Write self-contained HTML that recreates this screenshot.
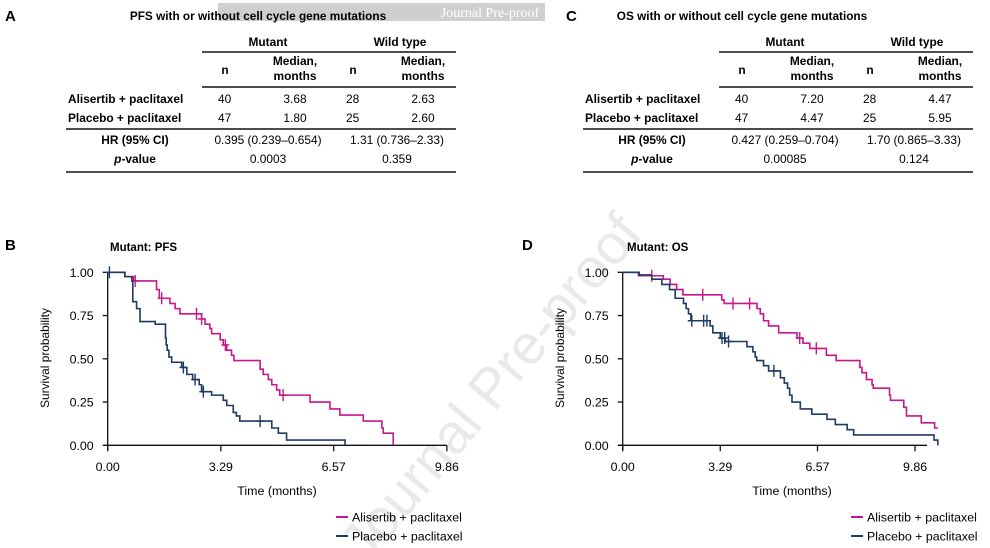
<!DOCTYPE html>
<html><head><meta charset="utf-8"><style>
body{margin:0;background:#fff;}
#root{position:relative;width:990px;height:548px;overflow:hidden;font-family:"Liberation Sans",Arial,sans-serif;color:#111;}
svg text{font-family:"Liberation Sans",Arial,sans-serif;}
</style></head><body>
<div id="root">
<svg id="svg" width="990" height="548" viewBox="0 0 990 548">
  <g>
    <text x="505" y="400" font-size="56" fill="#e9e9e9" text-anchor="middle" transform="rotate(-50 505 400)">Journal Pre-proof</text>
  </g>
  <rect x="218" y="3" width="327" height="18" fill="#cfcfcf"/>
  <text x="490" y="17" font-size="14" fill="#fff" text-anchor="middle" style="font-family:'Liberation Serif',serif">Journal Pre-proof</text>
  <g id="tables"></g>
  <g id="charts"></g>
</svg>
</div>
<script>
// ---- Table data ----
const tableTitles = ["PFS with or without cell cycle gene mutations","OS with or without cell cycle gene mutations"];
const tableLetters = ["A","C"];
const tableRows = [
  [["Alisertib + paclitaxel","40","3.68","28","2.63"],["Placebo + paclitaxel","47","1.80","25","2.60"]],
  [["Alisertib + paclitaxel","40","7.20","28","4.47"],["Placebo + paclitaxel","47","4.47","25","5.95"]]
];
const tableHR = [["0.395 (0.239\u20130.654)","1.31 (0.736\u20132.33)"],["0.427 (0.259\u20130.704)","1.70 (0.865\u20133.33)"]];
const tableP = [["0.0003","0.359"],["0.00085","0.124"]];

// ---- Chart data ----
const xTicks = [0, 3.29, 6.57, 9.86];
const xTickLabels = ["0.00","3.29","6.57","9.86"];
const yTicks = [0, 0.25, 0.5, 0.75, 1];
const yTickLabels = ["0.00","0.25","0.50","0.75","1.00"];
const chartLetters = ["B","D"];
const chartTitles = ["Mutant: PFS","Mutant: OS"];
const seriesNames = ["Alisertib + paclitaxel","Placebo + paclitaxel"];

const pfsAliT = [0,0.5,0.75,1.42,1.50,1.81,1.96,2.10,2.73,2.83,2.97,3.02,3.27,3.36,3.46,3.60,3.67,4.43,4.52,4.67,4.77,4.91,5.0,5.88,6.46,6.75,7.43,7.97,8.01,8.30];
const pfsAliS = [1,0.975,0.95,0.90,0.85,0.82,0.79,0.76,0.73,0.70,0.675,0.645,0.61,0.58,0.55,0.52,0.49,0.44,0.41,0.38,0.35,0.32,0.29,0.25,0.21,0.175,0.14,0.10,0.07,0.0];
const pfsAliC = [0.80,1.57,2.58,2.73,3.42,5.10];
const pfsPlaT = [0,0.50,0.70,0.73,0.84,0.94,1.38,1.68,1.70,1.73,1.78,1.86,2.15,2.30,2.47,2.66,2.73,3.02,3.36,3.46,3.65,3.74,3.84,4.77,4.96,5.20,6.90];
const pfsPlaS = [1,0.975,0.95,0.83,0.79,0.715,0.70,0.62,0.58,0.55,0.51,0.48,0.45,0.41,0.38,0.35,0.31,0.29,0.26,0.23,0.19,0.17,0.14,0.10,0.07,0.03,0.0];
const pfsPlaC = [0.05,2.20,2.54,2.78,4.43];
const pfsEnd = [8.30, 6.90];

const osAliT = [0,0.53,1.37,1.60,1.82,2.03,3.34,3.42,4.53,4.64,4.75,4.92,5.26,5.88,6.08,6.31,6.87,7.20,8.0,8.07,8.22,8.41,8.45,9.0,9.03,9.48,9.57,10.07,10.52];
const osAliS = [1,0.98,0.96,0.93,0.90,0.87,0.84,0.82,0.79,0.76,0.72,0.69,0.65,0.62,0.59,0.56,0.52,0.49,0.45,0.42,0.38,0.35,0.33,0.29,0.26,0.22,0.17,0.13,0.10];
const osAliC = [0.98,2.70,3.72,4.28,5.97,6.53];
const osPlaT = [0,0.56,0.98,1.32,1.58,1.77,2.05,2.14,2.22,2.30,2.95,3.04,3.29,3.46,4.19,4.39,4.47,4.52,4.75,4.92,5.32,5.45,5.56,5.63,5.71,5.99,6.38,6.89,7.17,7.57,7.79,10.50,10.63];
const osPlaS = [1,0.985,0.96,0.93,0.90,0.85,0.82,0.79,0.76,0.72,0.69,0.65,0.62,0.60,0.57,0.54,0.51,0.49,0.46,0.43,0.39,0.36,0.33,0.29,0.25,0.21,0.18,0.15,0.12,0.09,0.06,0.03,0.0];
const osPlaC = [2.33,2.73,2.84,3.35,3.44,3.57,5.10];
const osEnd = [10.63, 10.63];

const NS="http://www.w3.org/2000/svg";
function mk(tag, attrs, parent, text){
  const e=document.createElementNS(NS,tag);
  for(const k in attrs) e.setAttribute(k,attrs[k]);
  if(text!==undefined) e.textContent=text;
  parent.appendChild(e); return e;
}
const TF=11.9, CF=12.4;

// ---- Tables ----
const tg=document.getElementById('tables');
[0,1].forEach(ti=>{
  const o = ti*517;
  const g=mk('g',{},tg);
  
  
  const L=mk('text',{x:ti?566:5,y:21,'font-size':15,'font-weight':'bold'},g,tableLetters[ti]);
  
  
  const t=mk('text',{x:ti?742:258,y:20,'font-size':11.8,'font-weight':'bold','text-anchor':'middle'},g,tableTitles[ti]);
  
  
  const hdr=[["Mutant",268,46],["Wild type",400,46]];
  hdr.forEach(h=>{const e=mk('text',{x:h[1]+o,y:h[2],'font-size':TF,'font-weight':'bold','text-anchor':'middle'},g,h[0]);
    });
  const sub=[["n",225,74],["n",353,74]];
  sub.forEach(h=>{const e=mk('text',{x:h[1]+o,y:h[2],'font-size':TF,'font-weight':'bold','text-anchor':'middle'},g,h[0]);
    });
  [295,423].forEach(x=>{
    const a=mk('text',{x:x+o,y:65,'font-size':TF,'font-weight':'bold','text-anchor':'middle'},g,"Median,");
    
    const b=mk('text',{x:x+o,y:80,'font-size':TF,'font-weight':'bold','text-anchor':'middle'},g,"months");
    
  });
  const lines=[[202,52],[202,87],[66,129],[66,172]];
  lines.forEach(l=>{const e=mk('line',{x1:l[0]+o,x2:456+o,y1:l[1],y2:l[1],stroke:'#111','stroke-width':1.6},g);
    });
  const colX=[218,295,346,423];
  tableRows[ti].forEach((r,ri)=>{
    const y=103+ri*19;
    const lab=mk('text',{x:68+o,y:y,'font-size':TF,'font-weight':'bold'},g,r[0]);
    
    for(let c=1;c<5;c++){const e=mk('text',{x:colX[c-1]+o,y:y,'font-size':TF,'text-anchor':c%2===1?'start':'middle'},g,r[c]);
      }
  });
  const h1=mk('text',{x:135+o,y:144,'font-size':TF,'font-weight':'bold','text-anchor':'middle'},g,"HR (95% CI)");
  
  const p1=mk('text',{x:135+o,y:163,'font-size':TF,'font-weight':'bold','text-anchor':'middle'},g);
  
  mk('tspan',{'font-style':'italic'},p1,'p');mk('tspan',{},p1,'-value');
  [268,397].forEach((x,k)=>{
    const a=mk('text',{x:x+o,y:144,'font-size':TF,'text-anchor':'middle'},g,tableHR[ti][k]);
    
    const b=mk('text',{x:x+o,y:163,'font-size':TF,'text-anchor':'middle'},g,tableP[ti][k]);
    
  });
});

// ---- Charts ----
const cg=document.getElementById('charts');
const charts=[
  {x0:107.7,ppm:34.4,off:0,series:[[pfsAliT,pfsAliS,pfsAliC,pfsEnd[0]],[pfsPlaT,pfsPlaS,pfsPlaC,pfsEnd[1]]]},
  {x0:622.7,ppm:29.65,off:515,series:[[osAliT,osAliS,osAliC,osEnd[0]],[osPlaT,osPlaS,osPlaC,osEnd[1]]]}
];
const colors=["#c8168c","#1f3a63"];
const yTop=272.3, yBot=445.3;
charts.forEach((c,ci)=>{
  const xs=v=>c.x0+v*c.ppm;
  const ys=v=>yBot-(yBot-yTop)*v;
  const g=mk('g',{},cg);
  
  
  const L=mk('text',{x:5+c.off+(ci?2:0),y:250,'font-size':15,'font-weight':'bold'},g,chartLetters[ci]);
  
  const T=mk('text',{x:110+c.off+(ci?2:0),y:251,'font-size':11.5,'font-weight':'bold'},g,chartTitles[ci]);
  
  const ya=mk('line',{x1:xs(0),x2:xs(0),y1:yTop,y2:yBot+5,stroke:'#111','stroke-width':1.3},g);
  
  const xa=mk('line',{x1:xs(0)-4,x2:xs(9.86)+(ci?12:0),y1:yBot,y2:yBot,stroke:'#111','stroke-width':1.3},g);
  
  yTicks.forEach((v,i)=>{
    const tk=mk('line',{x1:xs(0)-5,x2:xs(0),y1:ys(v),y2:ys(v),stroke:'#111','stroke-width':1.3},g);
    
    const tl=mk('text',{x:xs(0)-14,y:ys(v)+4.5,'font-size':CF,'text-anchor':'end'},g,yTickLabels[i]);
    
  });
  xTicks.forEach((v,i)=>{
    const tk=mk('line',{x1:xs(v),x2:xs(v),y1:yBot,y2:yBot+6,stroke:'#111','stroke-width':1.3},g);
    
    const tl=mk('text',{x:xs(v),y:471,'font-size':CF,'text-anchor':'middle'},g,xTickLabels[i]);
    
  });
  const yt=mk('text',{x:0,y:0,'font-size':CF-0.5,'text-anchor':'middle',transform:`translate(${49+c.off},358) rotate(-90)`},g,"Survival probability");
  
  const xt=mk('text',{x:277+c.off,y:495,'font-size':CF,'text-anchor':'middle'},g,"Time (months)");
  
  c.series.forEach((s,si)=>{
    const [T_,S_,C_,end]=s;
    let d=`M${xs(T_[0])},${ys(S_[0])}`;
    for(let i=1;i<T_.length;i++){d+=`H${xs(T_[i])}V${ys(S_[i])}`;}
    d+=`H${xs(end)}`;
    const p=mk('path',{d:d,fill:'none',stroke:colors[si],'stroke-width':1.6},g);
    
    
    C_.forEach(ct=>{
      let sv=S_[0];
      for(let i=0;i<T_.length;i++){if(T_[i]<=ct) sv=S_[i];}
      const m=mk('path',{d:`M${xs(ct)-4},${ys(sv)}H${xs(ct)+4}M${xs(ct)},${ys(sv)-6}V${ys(sv)+6}`,stroke:colors[si],'stroke-width':1.4,fill:'none'},g);
      
      
    });
  });
  seriesNames.forEach((n,si)=>{
    const y=518+si*19;
    const lg=mk('g',{},g);
    
    
    mk('line',{x1:336+c.off,x2:348+c.off,y1:y-1,y2:y-1,stroke:colors[si],'stroke-width':2},lg);
    mk('text',{x:352+c.off,y:y+3.5,'font-size':CF},lg,n);
  });
});
</script>
</body></html>
